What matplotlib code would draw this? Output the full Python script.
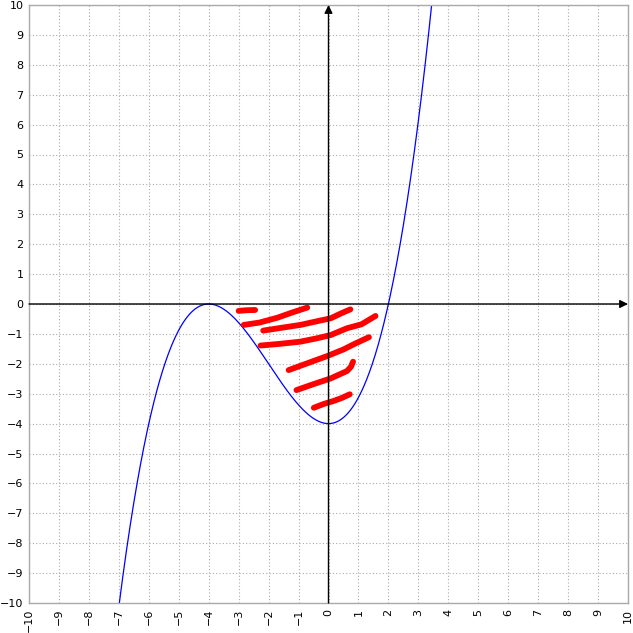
import numpy as np
import matplotlib
matplotlib.use("Agg")
import matplotlib.pyplot as plt

# Curve: cubic with double root at -4, root at 2, y(0) = -4
curve_roots = [-4, -4, 2]
curve_scale = 0.125

# Hand-drawn red strokes (x list, y list)
stroke_x = [
    [-3.0, -2.75, -2.45],
    [-2.83, -2.3, -1.71, -1.2, -0.71],
    [-2.18, -1.6, -0.94, -0.4, 0.07, 0.45, 0.73],
    [-2.27, -1.6, -0.94, -0.4, 0.07, 0.62, 1.1, 1.57],
    [-1.33, -0.7, -0.04, 0.5, 0.9, 1.35],
    [-1.07, -0.5, 0.07, 0.62, 0.75, 0.82],
    [-0.49, -0.15, 0.18, 0.45, 0.71],
]
stroke_y = [
    [-0.23, -0.21, -0.2],
    [-0.70, -0.62, -0.46, -0.28, -0.12],
    [-0.89, -0.80, -0.70, -0.58, -0.48, -0.30, -0.18],
    [-1.39, -1.33, -1.26, -1.15, -1.04, -0.81, -0.68, -0.40],
    [-2.21, -1.98, -1.74, -1.52, -1.32, -1.11],
    [-2.88, -2.68, -2.49, -2.24, -2.10, -1.93],
    [-3.47, -3.34, -3.24, -3.14, -3.02],
]

ticks = list(range(-10, 11))

fig = plt.figure(figsize=(6.33, 6.33), dpi=100)
ax = fig.add_axes([29/633, 30/633, 599/633, 598/633])
ax.set_xlim(-10, 10)
ax.set_ylim(-10, 10)

ax.set_xticks(ticks)
ax.set_yticks(ticks)
ax.set_xticklabels([str(t).replace('-', '\u2212') for t in ticks], rotation=90, fontsize=8)
ax.set_yticklabels([str(t).replace('-', '\u2212') for t in ticks], fontsize=8)
ax.tick_params(length=0, pad=4)
ax.grid(True, color='#aaaaaa', linestyle=(0, (1, 2)), linewidth=0.8)
for s in ax.spines.values():
    s.set_color('#aaaaaa')
    s.set_linewidth(1.0)

# axes with arrows
ax.annotate('', xy=(0, 10), xytext=(0, -10),
            arrowprops=dict(arrowstyle='-|>', color='black', lw=1.0, mutation_scale=12, shrinkA=0, shrinkB=0))
ax.annotate('', xy=(10, 0), xytext=(-10, 0),
            arrowprops=dict(arrowstyle='-|>', color='black', lw=1.0, mutation_scale=12, shrinkA=0, shrinkB=0))

xs = np.linspace(-7.2, 3.7, 800)
poly = curve_scale * np.poly(curve_roots)
ys = np.polyval(poly, xs)
ax.plot(xs, ys, color='#0000ff', lw=0.9)

for sx, sy in zip(stroke_x, stroke_y):
    ax.plot(sx, sy, color='#ff0000', lw=4.2, solid_capstyle='round', solid_joinstyle='round')

fig.savefig('out.png', dpi=100)
